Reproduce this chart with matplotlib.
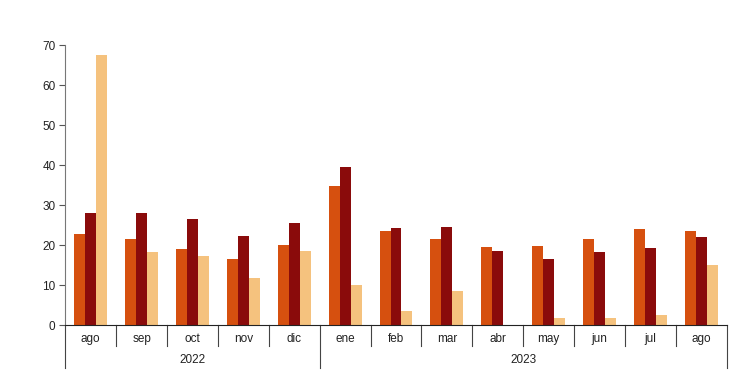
import matplotlib.pyplot as plt
import matplotlib.transforms as mtransforms
import numpy as np

plt.rcParams['font.family'] = ['Liberation Sans', 'DejaVu Sans']

months = ["ago", "sep", "oct", "nov", "dic", "ene", "feb", "mar", "abr", "may", "jun", "jul", "ago"]
years = ["2022", "2023"]
year_split = 5  # first month of 2023

serie_a = [22.7, 21.4, 19.0, 16.5, 19.9, 34.8, 23.5, 21.4, 19.5, 19.8, 21.5, 23.9, 23.4]
serie_b = [28.1, 27.9, 26.5, 22.3, 25.6, 39.4, 24.3, 24.5, 18.4, 16.4, 18.3, 19.2, 21.9]
serie_c = [67.5, 18.3, 17.2, 11.7, 18.6, 10.1, 3.4, 8.6, 0.1, 1.75, 1.8, 2.4, 15.0]

c_a = "#D6500F"
c_b = "#8A0B0B"
c_c = "#F5C27E"

fig = plt.figure(figsize=(7.5, 3.75), dpi=100)
ax = fig.add_axes([0.087, 0.1333, 0.882, 0.7467])

x = np.arange(len(months))
w = 0.215
ax.bar(x - w, serie_a, width=w, color=c_a)
ax.bar(x, serie_b, width=w, color=c_b)
ax.bar(x + w, serie_c, width=w, color=c_c)

ax.set_xlim(-0.5, len(months) - 0.5)
ax.set_ylim(0, 70)
ax.set_yticks(range(0, 71, 10))
ax.tick_params(axis='y', length=4, width=0.8, color='#555555', labelsize=8.5, labelcolor='#222222', pad=3)
ax.set_xticks([])

for s in ['top', 'right']:
    ax.spines[s].set_visible(False)
ax.spines['left'].set_color('#777777')
ax.spines['left'].set_linewidth(0.8)
ax.spines['bottom'].set_color('#222222')
ax.spines['bottom'].set_linewidth(0.8)

# category separators and labels below the axis
trans = mtransforms.blended_transform_factory(ax.transData, ax.transAxes)
short = -21 / 280
long_ = -43 / 280
for i in range(1, len(months)):
    pos = i - 0.5
    bottom = long_ if i == year_split else short
    ax.plot([pos, pos], [0, bottom], transform=trans, color='#444444', lw=0.8, clip_on=False)
for pos in [-0.5, len(months) - 0.5]:
    ax.plot([pos, pos], [0, long_], transform=trans, color='#444444', lw=0.8, clip_on=False)

for i, m in enumerate(months):
    ax.text(i, -14 / 280, m, transform=trans, ha='center', va='center', fontsize=8.5, color='#222222')

ax.text((year_split - 1) / 2, -35 / 280, years[0], transform=trans, ha='center', va='center',
        fontsize=8.5, color='#222222')
ax.text((year_split + len(months) - 1) / 2, -35 / 280, years[1], transform=trans, ha='center',
        va='center', fontsize=8.5, color='#222222')

fig.savefig("out.png", dpi=100)
